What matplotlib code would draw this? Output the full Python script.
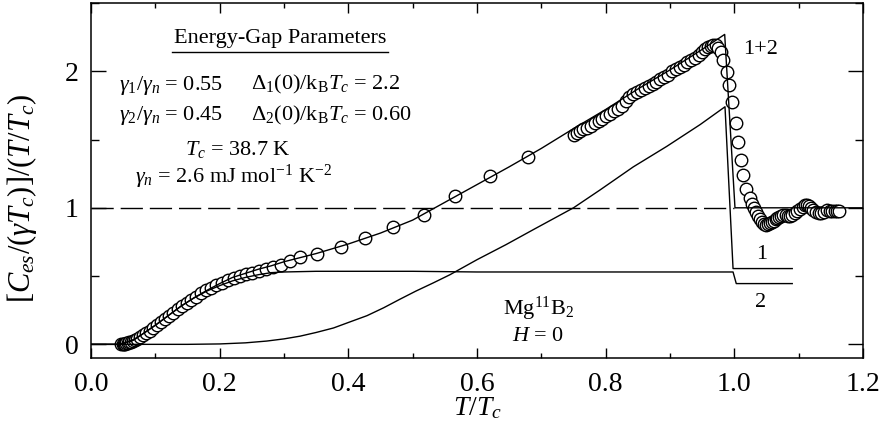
import numpy as np
import matplotlib
matplotlib.use("Agg")
import matplotlib.pyplot as plt
from matplotlib.ticker import MultipleLocator

plt.rcParams['font.family'] = ['Liberation Serif', 'DejaVu Serif']
plt.rcParams['mathtext.fontset'] = 'custom'
plt.rcParams['mathtext.rm'] = 'Liberation Serif'
plt.rcParams['mathtext.it'] = 'Liberation Serif:italic'
plt.rcParams['mathtext.bf'] = 'Liberation Serif:bold'

# measured points (T/Tc, C/gamma T)
t_data = [0.047, 0.049, 0.051, 0.053, 0.055, 0.057, 0.059, 0.062, 0.065, 0.068,
          0.072, 0.076, 0.081, 0.086, 0.091, 0.097, 0.103, 0.109, 0.115, 0.121,
          0.128, 0.135, 0.142, 0.149, 0.156, 0.163, 0.171, 0.179, 0.187, 0.195,
          0.204, 0.213, 0.222, 0.231, 0.241, 0.251, 0.261, 0.272, 0.283, 0.295,
          0.309, 0.325, 0.351, 0.389, 0.426, 0.469, 0.517, 0.566, 0.620, 0.680,
          0.750, 0.755, 0.760, 0.765, 0.771, 0.777, 0.783, 0.789, 0.795, 0.801,
          0.807, 0.813, 0.819, 0.825, 0.831, 0.837, 0.843, 0.849, 0.855, 0.861,
          0.867, 0.873, 0.879, 0.885, 0.891, 0.897, 0.903, 0.909, 0.915, 0.921,
          0.927, 0.933, 0.939, 0.945, 0.950, 0.955, 0.959, 0.963, 0.967, 0.971,
          0.975, 0.979, 0.983, 0.988, 0.992, 0.996, 1.0026, 1.006, 1.010, 1.014,
          1.018, 1.024, 1.028, 1.031, 1.034, 1.037, 1.040, 1.043, 1.046, 1.049,
          1.052, 1.055, 1.058, 1.061, 1.064, 1.067, 1.070, 1.073, 1.076, 1.080,
          1.084, 1.087, 1.090, 1.094, 1.098, 1.102, 1.106, 1.110, 1.113, 1.116,
          1.119, 1.123, 1.127, 1.131, 1.135, 1.139, 1.144, 1.148, 1.152, 1.156,
          1.160, 1.163]
c_data = [0.0, 0.002, 0.004, 0.006, 0.008, 0.011, 0.014, 0.018, 0.024, 0.03,
          0.04, 0.051, 0.066, 0.082, 0.098, 0.118, 0.139, 0.16, 0.182, 0.205,
          0.23, 0.256, 0.281, 0.305, 0.328, 0.35, 0.373, 0.395, 0.415, 0.433,
          0.452, 0.468, 0.483, 0.497, 0.512, 0.526, 0.54, 0.553, 0.567, 0.582,
          0.612, 0.637, 0.664, 0.713, 0.78, 0.856, 0.949, 1.09, 1.23, 1.375,
          1.533, 1.55, 1.56, 1.575, 1.585, 1.60, 1.618, 1.635, 1.652, 1.67,
          1.69, 1.708, 1.725, 1.748, 1.785, 1.81, 1.835, 1.85, 1.865, 1.88,
          1.895, 1.91, 1.925, 1.94, 1.955, 1.975, 2.0, 2.02, 2.03, 2.045,
          2.065, 2.08, 2.1, 2.12, 2.14, 2.16, 2.175, 2.185, 2.19, 2.19,
          2.17, 2.14, 2.08, 1.995, 1.90, 1.776, 1.62, 1.48, 1.35, 1.24,
          1.14, 1.07, 1.03, 1.0, 0.97, 0.94, 0.915, 0.895, 0.88, 0.875,
          0.88, 0.888, 0.895, 0.905, 0.915, 0.925, 0.93, 0.94, 0.949, 0.945,
          0.94, 0.937, 0.945, 0.96, 0.973, 0.99, 1.005, 1.018, 1.022, 1.01,
          0.995, 0.985, 0.97, 0.96, 0.96, 0.97, 0.985, 0.98, 0.975, 0.973,
          0.973, 0.975]

# two-gap fit: total (1+2)
t_fit = [0.0, 0.04, 0.05, 0.066, 0.08, 0.10, 0.12, 0.14, 0.16, 0.18, 0.20, 0.22,
         0.24, 0.26, 0.28, 0.30, 0.35, 0.40, 0.45, 0.50, 0.55, 0.60, 0.65, 0.70,
         0.75, 0.80, 0.85, 0.90, 0.95, 0.985, 1.001, 1.2]
c_fit = [0.0, 0.0, 0.008, 0.035, 0.075, 0.14, 0.21, 0.28, 0.34, 0.395, 0.445, 0.49,
         0.52, 0.55, 0.575, 0.605, 0.665, 0.735, 0.815, 0.91, 1.04, 1.17, 1.30, 1.435,
         1.58, 1.72, 1.87, 2.01, 2.16, 2.27, 1.0, 1.0]

# component 1 (large gap)
t_gap1 = [0.0, 0.15, 0.2, 0.24, 0.273, 0.30, 0.325, 0.35, 0.377, 0.40, 0.429, 0.455,
          0.48, 0.505, 0.532, 0.558, 0.60, 0.645, 0.6875, 0.75, 0.791, 0.843, 0.895,
          0.947, 0.9855, 0.998, 1.09]
c_gap1 = [0.0, 0.0, 0.003, 0.011, 0.024, 0.04, 0.06, 0.087, 0.12, 0.16, 0.21, 0.268,
          0.33, 0.39, 0.45, 0.51, 0.62, 0.73, 0.84, 1.0, 1.13, 1.30, 1.45,
          1.61, 1.74, 0.555, 0.555]

# component 2 (small gap)
t_gap2 = [0.0, 0.04, 0.05, 0.066, 0.08, 0.10, 0.12, 0.14, 0.16, 0.18, 0.20, 0.22,
          0.24, 0.26, 0.28, 0.30, 0.35, 0.40, 0.50, 0.60, 0.70, 0.80, 0.90, 0.998,
          1.003, 1.09]
c_gap2 = [0.0, 0.0, 0.005, 0.03, 0.075, 0.14, 0.21, 0.28, 0.34, 0.39, 0.43, 0.465,
          0.49, 0.51, 0.525, 0.53, 0.535, 0.535, 0.535, 0.53, 0.53, 0.53, 0.53, 0.53,
          0.445, 0.445]

fig = plt.figure(figsize=(8.85, 4.48), dpi=100)
ax = fig.add_axes([91/885, 90/448, 772/885, 355/448])

ax.plot([0, 1.0], [1, 1], color='black', lw=1.0, dashes=(16, 5), zorder=2)
ax.plot(t_data, c_data, 'o', ms=9, mfc='white', mec='black', mew=1.0, zorder=3)
ax.plot(t_fit, c_fit, color='black', lw=1.0, zorder=4)
ax.plot(t_gap1, c_gap1, color='black', lw=1.0, zorder=4)
ax.plot(t_gap2, c_gap2, color='black', lw=1.0, zorder=4)

ax.set_xlim(0, 1.2)
ax.set_ylim(-0.1, 2.5)
ax.xaxis.set_minor_locator(MultipleLocator(0.1))
ax.yaxis.set_minor_locator(MultipleLocator(0.5))
ax.set_xticks([0.0, 0.2, 0.4, 0.6, 0.8, 1.0, 1.2])
ax.set_xticklabels(['0.0', '0.2', '0.4', '0.6', '0.8', '1.0', '1.2'])
ax.set_yticks([0, 1, 2])
ax.set_yticklabels(['0', '1', '2'])

ax.tick_params(axis='x', which='major', direction='in', length=7.5, width=1.0,
               top=True, labelsize=20, pad=10)
ax.tick_params(axis='x', which='minor', direction='in', length=3.5, width=1.0, top=True)
ax.tick_params(axis='y', which='major', direction='in', length=11, width=1.0,
               right=True, labelsize=20, pad=9)
ax.tick_params(axis='y', which='minor', direction='in', length=5.5, width=1.0, right=True)
for s in ax.spines.values():
    s.set_linewidth(1.1)

ax.set_xlabel(r'$T/T_c$', fontsize=20)
ax.xaxis.set_label_coords(0.501, -0.105)
ax.set_ylabel(r'$[C_{es}/(\gamma T_c)]/(T/T_c)$', fontsize=22)
ax.yaxis.set_label_coords(-0.068, 0.45)

fs = 16
ax.text(0.294, 2.204, 'Energy-Gap Parameters', fontsize=fs, ha='center', va='baseline')
ax.plot([0.105, 0.385], [0.862, 0.862], color='black', lw=1.0, transform=ax.transAxes)
ax.text(0.0435, 1.866, r'$\gamma_{\mathit{1}}/\gamma_n$ = 0.55', fontsize=fs, va='baseline')
ax.text(0.249, 1.866, r'$\Delta_1(0)/\mathrm{k_B}T_c$ = 2.2', fontsize=fs, va='baseline')
ax.text(0.0435, 1.642, r'$\gamma_{\mathit{2}}/\gamma_n$ = 0.45', fontsize=fs, va='baseline')
ax.text(0.249, 1.642, r'$\Delta_2(0)/\mathrm{k_B}T_c$ = 0.60', fontsize=fs, va='baseline')
ax.text(0.2285, 1.387, r'$T_c$ = 38.7 K', fontsize=fs, ha='center', va='baseline')
ax.text(0.222, 1.182, r'$\gamma_n$ = 2.6 mJ mol$^{-1}$ K$^{-2}$', fontsize=fs,
        ha='center', va='baseline')

ax.text(1.0415, 2.13, '1+2', fontsize=fs, ha='center', va='baseline')
ax.text(1.043, 0.657, '1', fontsize=fs, ha='center', va='center')
ax.text(1.040, 0.307, '2', fontsize=fs, ha='center', va='center')
ax.text(0.695, 0.219, r'Mg$^{11}$B$_2$', fontsize=fs, ha='center', va='baseline')
ax.text(0.695, 0.024, r'$H$ = 0', fontsize=fs, ha='center', va='baseline')

fig.savefig('out.png', dpi=100)
